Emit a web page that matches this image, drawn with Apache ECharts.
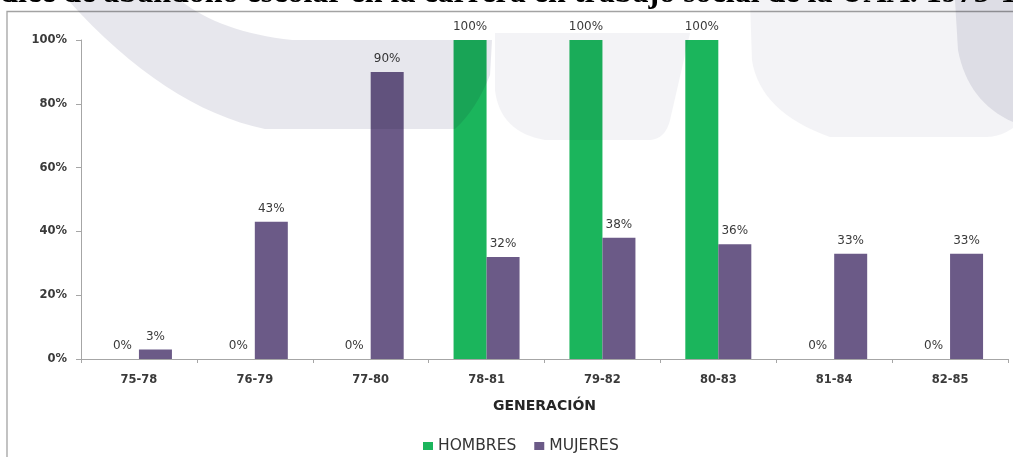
<!DOCTYPE html>
<html>
<head>
<meta charset="utf-8">
<script src="https://cdn.jsdelivr.net/npm/echarts@6/dist/echarts.min.js"></script>
<style>
  html, body { margin: 0; padding: 0; background: #ffffff; }
  #chart { width: 1013px; height: 457px; }
</style>
</head>
<body>
<div id="chart"></div>
<script>
// Generaciones (periodo de ingreso-egreso)
const categories = ['75-78', '76-79', '77-80', '78-81', '79-82', '80-83', '81-84', '82-85'];
// Porcentaje de abandono por sexo
const hombres = [0, 0, 0, 100, 100, 100, 0, 0];
const mujeres = [3, 43, 90, 32, 38, 36, 33, 33];
const seriesNames = ['HOMBRES', 'MUJERES'];
const titleText = 'Índice de abandono escolar en la carrera en trabajo social de la UAA. 1975-1985';
const axisTitle = 'GENERACIÓN';

const GREEN = '#1bb55c';
const PURPLE = '#6b5a87';
const TEXT = '#3a3a3a';

// Builds a polygon outline from straight segments ('L') and quadratic curves ('Q').
function outline(start, steps) {
  const pts = [start.slice()];
  let cur = start;
  steps.forEach(function (s) {
    if (s[0] === 'L') {
      cur = [s[1], s[2]];
      pts.push(cur);
    } else {
      const c = [s[1], s[2]], end = [s[3], s[4]];
      for (let i = 1; i <= 16; i++) {
        const t = i / 16, u = 1 - t;
        pts.push([u * u * cur[0] + 2 * u * t * c[0] + t * t * end[0],
                  u * u * cur[1] + 2 * u * t * c[1] + t * t * end[1]]);
      }
      cur = end;
    }
  });
  return pts;
}

const watermark = [
  { fill: '#e7e7ed', pts: outline([68, 0], [['L', 180, 0], ['Q', 220, 32, 292, 40], ['L', 492, 40], ['L', 490, 75], ['Q', 476, 110, 455, 129], ['L', 265, 129], ['Q', 165, 108, 68, 0]]) },
  { fill: '#f3f3f6', pts: outline([495, 33], [['L', 690, 33], ['L', 670, 120], ['Q', 665, 140, 648, 140], ['L', 545, 140], ['Q', 500, 132, 495, 90]]) },
  { fill: '#f3f3f6', pts: outline([750, 0], [['L', 1013, 0], ['L', 1013, 128], ['Q', 1000, 137, 985, 137], ['L', 830, 137], ['Q', 760, 112, 752, 60]]) },
  { fill: '#e8e8ee', pts: outline([955, 0], [['L', 1013, 0], ['L', 1013, 122], ['Q', 968, 102, 958, 50]]) }
];

const chart = echarts.init(document.getElementById('chart'), null, { renderer: 'canvas' });

const labelStyle = {
  show: true,
  position: 'top',
  distance: 7,
  formatter: '{c}%',
  color: TEXT,
  fontFamily: 'DejaVu Sans',
  fontSize: 12
};

const graphics = [
  // Marco del gráfico
  {
    type: 'rect',
    z: 1,
    shape: { x: 7, y: 11.5, width: 1100, height: 600 },
    style: { fill: 'none', stroke: '#a3a3a3', lineWidth: 1.3 }
  }
];
watermark.forEach(function (w, i) {
  graphics.push({
    type: 'polygon',
    z: 50 + i,
    silent: true,
    shape: { points: w.pts },
    style: { fill: w.fill, blend: 'multiply' }
  });
});
// Título (recortado por el borde superior)
graphics.push({
  type: 'text',
  z: 60,
  x: -30,
  y: -22,
  style: {
    text: titleText,
    font: 'bold 32px "Liberation Serif"',
    fill: '#000000'
  }
});

chart.setOption({
  animation: false,
  backgroundColor: '#ffffff',
  grid: { left: 81, right: 5, top: 40, bottom: 98, containLabel: false },
  legend: {
    data: seriesNames,
    left: 418,
    top: 433,
    itemWidth: 10,
    itemHeight: 8,
    itemGap: 18,
    icon: 'rect',
    textStyle: { color: '#333333', fontFamily: 'DejaVu Sans', fontSize: 15.5 }
  },
  xAxis: {
    type: 'category',
    data: categories,
    name: axisTitle,
    nameLocation: 'middle',
    nameGap: 40,
    nameTextStyle: { color: '#262626', fontFamily: 'DejaVu Sans', fontWeight: 'bold', fontSize: 14 },
    axisLine: { lineStyle: { color: '#a6a6a6', width: 1 } },
    axisTick: { show: true, length: 4, lineStyle: { color: '#a6a6a6' } },
    axisLabel: { margin: 15, color: TEXT, fontFamily: 'DejaVu Sans', fontWeight: 'bold', fontSize: 11.5 },
    splitLine: { show: false }
  },
  yAxis: {
    type: 'value',
    min: 0,
    max: 100,
    interval: 20,
    axisLine: { show: true, lineStyle: { color: '#a6a6a6', width: 1 } },
    axisTick: { show: true, length: 5, lineStyle: { color: '#a6a6a6' } },
    axisLabel: { formatter: '{value}%', margin: 14, color: TEXT, fontFamily: 'DejaVu Sans', fontWeight: 'bold', fontSize: 11.5 },
    splitLine: { show: false }
  },
  series: [
    {
      name: seriesNames[0],
      type: 'bar',
      data: hombres,
      barWidth: 33,
      barGap: '0%',
      itemStyle: { color: GREEN },
      label: labelStyle
    },
    {
      name: seriesNames[1],
      type: 'bar',
      data: mujeres,
      barWidth: 33,
      barGap: '0%',
      itemStyle: { color: PURPLE },
      label: labelStyle
    }
  ],
  graphic: graphics
});
</script>
</body>
</html>
